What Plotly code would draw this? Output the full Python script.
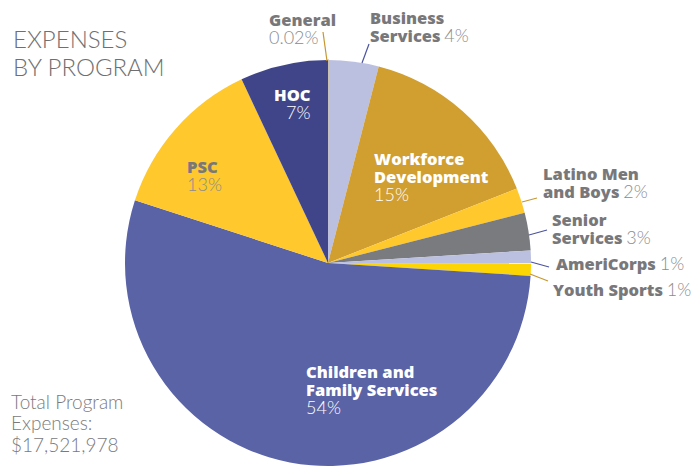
import plotly.graph_objects as go

W, H = 694, 467

# data
programs = ["General", "Business Services", "Workforce Development", "Latino Men and Boys",
            "Senior Services", "AmeriCorps", "Youth Sports", "Children and Family Services",
            "PSC", "HOC"]
shares = [0.02, 4, 15, 2, 3, 1, 1, 54, 13, 7]
share_labels = ["0.02%", "4%", "15%", "2%", "3%", "1%", "1%", "54%", "13%", "7%"]
total_expenses = "$17,521,978"

colors = ["#F5C518", "#BCC0E0", "#D19E30", "#FFC82C", "#7A7B7E",
          "#BCC0E0", "#FDD404", "#5A63A6", "#FFC82C", "#404589"]

LIGHT = "Lato"
BOLD = "Open Sans"
GRAY_BOLD = "#78787b"
GRAY_LIGHT = "#8c8c8f"

# pie placement in pixels (center and radius)
cx, cy, r = 328, 263, 203


def px(x, y):
    return x / W, 1 - y / H


fig = go.Figure()
fig.add_trace(go.Pie(
    labels=programs,
    values=shares,
    sort=False,
    direction="clockwise",
    rotation=0,
    textinfo="none",
    hoverinfo="label+percent",
    marker=dict(colors=colors,
                line=dict(color=["#F0C020"] + ["rgba(0,0,0,0)"] * 9,
                          width=[1.5] + [0] * 9)),
    domain=dict(x=[(cx - r) / W, (cx + r) / W], y=[1 - (cy + r) / H, 1 - (cy - r) / H]),
    showlegend=False,
))

annotations = []


def label(x, y, lines, base=14, color=GRAY_LIGHT, anchor="left", align="left"):
    # base size sets the line spacing (1.3 x base), spans set the glyph size
    ax, ay = px(x, y)
    annotations.append(dict(
        x=ax, y=ay, xref="paper", yref="paper", text="<br>".join(lines), showarrow=False,
        xanchor=anchor, yanchor="middle", align=align,
        font=dict(family=LIGHT, size=base, color=color, weight=300),
    ))


def b(text, color=GRAY_BOLD):
    return (f"<span style='font-family:{BOLD};font-weight:800;"
            f"font-size:16.5px;color:{color}'>{text}</span>")


def t(text, size=18):
    return f"<span style='font-size:{size}px'>{text}</span>"


# title + total
label(11, 53, [t("EXPENSES", 24), t("BY PROGRAM", 24)], base=21.5, color="#6f6f72")
label(9, 423, [t("Total Program", 19), t("Expenses:", 19), t(total_expenses, 19)],
      base=16.5, color="#7a7a7d")

# outside labels
label(267, 28, [b("General"), t(share_labels[0])])
label(368, 27, [b("Business"), b("Services") + " " + t(share_labels[1])])
label(541, 182, [b("Latino Men"), b("and Boys") + " " + t(share_labels[3])])
label(550, 228, [b("Senior"), b("Services") + " " + t(share_labels[4])])
label(554, 263, [b("AmeriCorps") + " " + t(share_labels[5])])
label(551, 289, [b("Youth Sports") + " " + t(share_labels[6])])

# inside labels
label(313, 103, [b("HOC", "white"), t(share_labels[9])], color="white",
      anchor="right", align="right")
label(185, 175, [b("PSC"), t(share_labels[8])])
label(372, 176, [b("Workforce", "white"), b("Development", "white"), t(share_labels[2])],
      color="white")
label(304, 389, [b("Children and", "white"), b("Family Services", "white"),
                 t(share_labels[7])], color="white")

# leader lines
GOLD = "#C8962E"
BLUE = "#4C53A0"
leaders = [((323, 32), (327, 61), GOLD),
           ((369, 44), (362, 63), BLUE),
           ((537, 198), (522, 202), GOLD),
           ((547, 230), (529, 235), BLUE),
           ((549, 267), (531, 262), BLUE),
           ((548, 281), (530, 274), GOLD)]
shapes = []
for (x0, y0), (x1, y1), c in leaders:
    a0, b0 = px(x0, y0)
    a1, b1 = px(x1, y1)
    shapes.append(dict(type="line", xref="paper", yref="paper", x0=a0, y0=b0, x1=a1, y1=b1,
                       line=dict(color=c, width=1.2)))

fig.update_layout(
    width=W, height=H,
    margin=dict(l=0, r=0, t=0, b=0),
    paper_bgcolor="white",
    plot_bgcolor="white",
    annotations=annotations,
    shapes=shapes,
)

fig.write_html("out.html", config={"displayModeBar": False},
               post_script="document.body.style.margin='0';")
